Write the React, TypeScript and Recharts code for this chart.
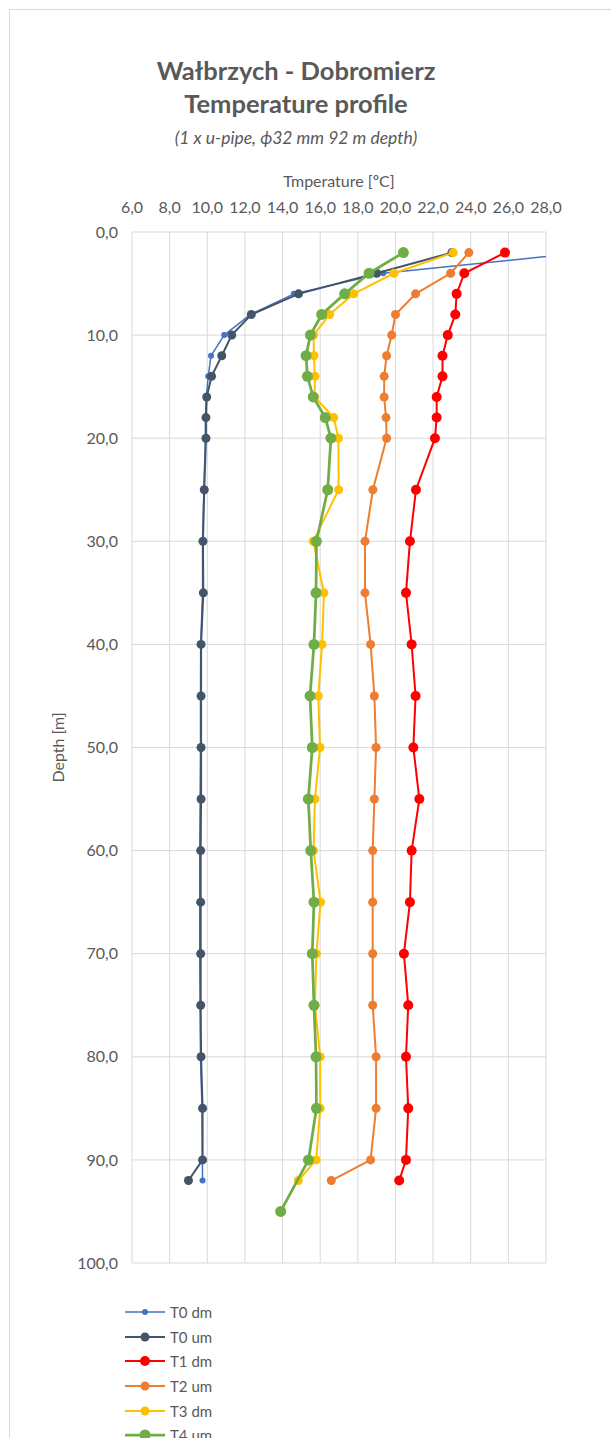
import { ScatterChart, Scatter, XAxis, YAxis, CartesianGrid, Legend } from 'recharts';

// depth [m] of the sensors
const depths = [2, 4, 6, 8, 10, 12, 14, 16, 18, 20, 25, 30, 35, 40, 45, 50, 55, 60, 65, 70, 75, 80, 85, 90, 92];
const depthsT4 = [2, 4, 6, 8, 10, 12, 14, 16, 18, 20, 25, 30, 35, 40, 45, 50, 55, 60, 65, 70, 75, 80, 85, 90, 95];

// temperatures [C]
const t0dm = [30.0, 19.35, 14.6, 12.3, 10.9, 10.2, 10.05, 9.95, 9.9, 9.9, 9.82, 9.75, 9.75, 9.65, 9.64, 9.64, 9.62, 9.6, 9.6, 9.6, 9.62, 9.64, 9.72, 9.74, 9.75];
const t0um = [23.0, 19.0, 14.85, 12.34, 11.3, 10.77, 10.23, 9.97, 9.93, 9.93, 9.84, 9.77, 9.79, 9.67, 9.67, 9.67, 9.67, 9.65, 9.65, 9.65, 9.65, 9.67, 9.75, 9.75, 9.0];
const t1dm = [25.82, 23.66, 23.25, 23.18, 22.78, 22.5, 22.5, 22.19, 22.19, 22.1, 21.09, 20.77, 20.56, 20.86, 21.07, 20.95, 21.27, 20.86, 20.77, 20.45, 20.68, 20.56, 20.68, 20.56, 20.2];
const t2um = [23.9, 22.93, 21.07, 20.0, 19.8, 19.53, 19.4, 19.4, 19.5, 19.53, 18.8, 18.38, 18.38, 18.68, 18.88, 18.97, 18.88, 18.79, 18.79, 18.79, 18.79, 18.97, 18.97, 18.68, 16.59];
const t3dm = [23.07, 19.92, 17.78, 16.5, 15.65, 15.67, 15.72, 15.7, 16.72, 16.97, 16.98, 15.63, 16.2, 16.1, 15.9, 15.99, 15.72, 15.65, 16.02, 15.8, 15.72, 16.0, 16.0, 15.79, 14.84];
const t4um = [20.42, 18.6, 17.3, 16.08, 15.48, 15.25, 15.32, 15.63, 16.27, 16.57, 16.4, 15.8, 15.78, 15.67, 15.46, 15.58, 15.37, 15.5, 15.67, 15.58, 15.67, 15.78, 15.8, 15.38, 13.9];

const xTicks = [6, 8, 10, 12, 14, 16, 18, 20, 22, 24, 26, 28];
const yTicks = [0, 10, 20, 30, 40, 50, 60, 70, 80, 90, 100];

const series = [
  { name: 'T0 dm', values: t0dm, depth: depths, color: '#4472C4', r: 3, w: 1.5 },
  { name: 'T0 um', values: t0um, depth: depths, color: '#44546A', r: 4.5, w: 2 },
  { name: 'T1 dm', values: t1dm, depth: depths, color: '#FF0000', r: 5, w: 2 },
  { name: 'T2 um', values: t2um, depth: depths, color: '#ED7D31', r: 4.5, w: 2 },
  { name: 'T3 dm', values: t3dm, depth: depths, color: '#FFC000', r: 4.5, w: 2 },
  { name: 'T4 um', values: t4um, depth: depthsT4, color: '#70AD47', r: 5.5, w: 2.75 },
];

const font = 'Lato, sans-serif';
const grey = '#595959';
const fmt = (v: number) => v.toFixed(1).replace('.', ',');

function renderLegend() {
  return (
    <div style={{ fontFamily: font, fontSize: 15, color: grey }}>
      {series.map((s) => (
        <div key={s.name} style={{ display: 'flex', alignItems: 'center', height: 24.6 }}>
          <svg width={46} height={14}>
            <line x1={1} y1={7} x2={41} y2={7} stroke={s.color} strokeWidth={s.w} />
            <circle cx={21} cy={7} r={s.r} fill={s.color} />
          </svg>
          <span>{s.name}</span>
        </div>
      ))}
    </div>
  );
}

export default function App() {
  return (
    <div style={{ position: 'relative', width: 611, height: 1438, overflow: 'hidden', background: '#fff' }}>
      <style>{'body{margin:0;overflow:hidden}'}</style>
      <div style={{ position: 'absolute', left: 9, top: 9, width: 640, height: 1500, borderTop: '1px solid #d9d9d9', borderLeft: '1px solid #d9d9d9' }} />
      <svg width={611} height={160} style={{ position: 'absolute', left: 0, top: 0 }}>
        <text x={296} y={80} textAnchor="middle" fontFamily={font} fontWeight="bold" fontSize={25.5} fill={grey}>Wałbrzych - Dobromierz</text>
        <text x={296} y={113} textAnchor="middle" fontFamily={font} fontWeight="bold" fontSize={25.5} fill={grey}>Temperature profile</text>
        <text x={296} y={144} textAnchor="middle" fontFamily={font} fontStyle="italic" fontSize={17.5} fill={grey}>(1 x u-pipe, ϕ32 mm 92 m depth)</text>
      </svg>
      <div style={{ position: 'absolute', left: 0, top: 0 }}>
        <ScatterChart width={611} height={1438} margin={{ top: 202, right: 65, bottom: 175, left: 72 }}>
          <CartesianGrid stroke="#d9d9d9" strokeWidth={1} />
          <XAxis
            type="number"
            dataKey="t"
            orientation="top"
            height={30}
            domain={[6, 28]}
            ticks={xTicks}
            interval={0}
            allowDataOverflow
            axisLine={false}
            tickLine={false}
            tickMargin={13}
            tickFormatter={fmt}
            tick={{ fill: grey, fontSize: 16, fontFamily: font }}
            label={{ value: 'Tmperature [ºC]', position: 'top', offset: 15, fill: grey, fontSize: 16, fontFamily: font }}
          />
          <YAxis
            type="number"
            dataKey="depth"
            reversed
            width={60}
            domain={[0, 100]}
            ticks={yTicks}
            interval={0}
            axisLine={false}
            tickLine={false}
            tickMargin={8}
            tickFormatter={fmt}
            tick={{ fill: grey, fontSize: 16, fontFamily: font }}
            label={{
              content: (p: any) => {
                const cy = p.viewBox.y + p.viewBox.height / 2;
                return (
                  <text x={60} y={cy} transform={`rotate(-90 60 ${cy})`} textAnchor="middle" dominantBaseline="middle" fill={grey} fontSize={16} fontFamily={font}>
                    Depth [m]
                  </text>
                );
              },
            }}
          />
          {series.map((s) => (
            <Scatter
              key={s.name}
              name={s.name}
              data={s.values.map((t, i) => ({ t, depth: s.depth[i] }))}
              line={{ stroke: s.color, strokeWidth: s.w }}
              lineType="joint"
              fill={s.color}
              isAnimationActive={false}
              shape={(p: any) => <circle cx={p.cx} cy={p.cy} r={s.r} fill={s.color} />}
            />
          ))}
          <Legend
            layout="vertical"
            align="center"
            verticalAlign="middle"
            content={renderLegend}
            wrapperStyle={{ left: 124, top: 1300, width: 150 }}
          />
        </ScatterChart>
      </div>
    </div>
  );
}
